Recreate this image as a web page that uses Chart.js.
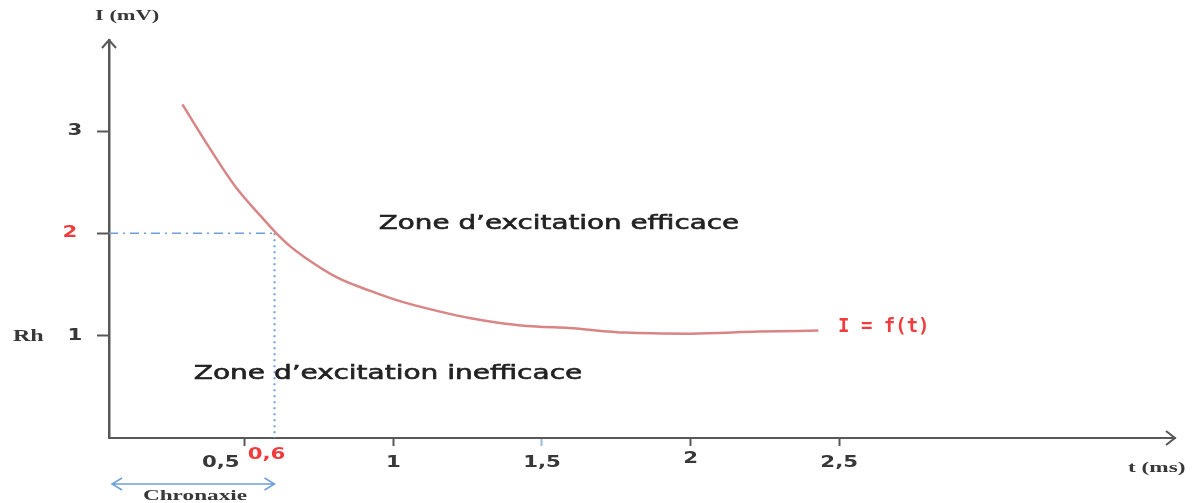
<!DOCTYPE html>
<html>
<head>
<meta charset="utf-8">
<script src="https://cdn.jsdelivr.net/npm/chart.js@4.4.1/dist/chart.umd.min.js"></script>
<style>
  html, body { margin: 0; padding: 0; background: #fff; }
  #wrap { width: 1195px; height: 503px; }
</style>
</head>
<body>
<div id="wrap"><canvas id="chart"></canvas></div>
<script>
// curve I = f(t)
const times = [0.29, 0.38, 0.47, 0.55, 0.6, 0.65, 0.7, 0.81, 0.92, 1.03, 1.15, 1.26, 1.37, 1.48, 1.59, 1.78, 2.0, 2.23, 2.43];
const currents = [3.26, 2.84, 2.45, 2.18, 2.02, 1.88, 1.77, 1.57, 1.44, 1.33, 1.24, 1.17, 1.12, 1.09, 1.075, 1.03, 1.02, 1.04, 1.05];

const xTicks = [0.5, 0.6, 1, 1.5, 2, 2.5];
const xTickLabels = ['0,5', '0,6', '1', '1,5', '2', '2,5'];
const yTicks = [1, 2, 3];
const yTickLabels = ['1', '2', '3'];

const chronaxie = 0.6;
const rheobase = 1;
const xMin = 0.043, xMax = 3.63;
const yMin = 0, yMax = 3.89;

const axisColor = '#585858';
const textColor = '#383838';
const blue = '#6f9fdb';
const red = '#f03c3c';
// the original picture is stretched sideways, so is its text
const stretch = 1.42;

const wideText = (ctx, text, x, y, sx, align, weight) => {
  ctx.save();
  ctx.translate(x, y);
  ctx.scale(sx, 1);
  ctx.textAlign = align;
  ctx.fillText(text, 0, 0);
  if (weight) {
    ctx.strokeStyle = ctx.fillStyle;
    ctx.lineWidth = weight;
    ctx.strokeText(text, 0, 0);
  }
  ctx.restore();
};

// axes arrows, tick labels and notes
const extras = {
  id: 'extras',
  afterDraw(chart) {
    const { ctx, chartArea: a, scales } = chart;
    const x = scales.x, y = scales.y;
    ctx.save();
    ctx.strokeStyle = axisColor;
    ctx.lineWidth = 2;
    // arrowhead on y axis
    ctx.beginPath();
    ctx.moveTo(a.left - 7, a.top + 8);
    ctx.lineTo(a.left, a.top);
    ctx.lineTo(a.left + 7, a.top + 8);
    ctx.stroke();
    // arrowhead on x axis
    ctx.beginPath();
    ctx.moveTo(a.right - 9, a.bottom - 7);
    ctx.lineTo(a.right, a.bottom);
    ctx.lineTo(a.right - 9, a.bottom + 7);
    ctx.stroke();

    ctx.textBaseline = 'middle';

    // tick labels
    ctx.font = 'bold 15px "DejaVu Sans"';
    x.ticks.forEach((t) => {
      const i = xTicks.indexOf(t.value);
      let px = x.getPixelForValue(t.value);
      let py = a.bottom + 25;
      if (t.value === 0.5) px -= 24;
      if (t.value === chronaxie) { px -= 8; py -= 8; }
      if (t.value === 2) py -= 4;
      ctx.fillStyle = t.value === chronaxie ? red : textColor;
      wideText(ctx, xTickLabels[i], px, py, stretch, 'center');
    });
    y.ticks.forEach((t) => {
      const i = yTicks.indexOf(t.value);
      const py = y.getPixelForValue(t.value);
      ctx.fillStyle = t.value === 2 ? red : textColor;
      wideText(ctx, yTickLabels[i], t.value === 2 ? 70 : 75, py, stretch, 'center');
    });

    // axis titles
    ctx.fillStyle = textColor;
    ctx.font = 'bold 15px "Liberation Serif"';
    wideText(ctx, 'I (mV)', 95, 16, 1.5, 'left');
    wideText(ctx, 't (ms)', 1128, 468, 1.55, 'left');
    ctx.font = 'bold 16px "Liberation Serif"';
    wideText(ctx, 'Rh', 13, y.getPixelForValue(rheobase) + 1, 1.5, 'left');

    // zones
    ctx.fillStyle = '#222';
    ctx.font = '20px "DejaVu Sans"';
    wideText(ctx, 'Zone d\u2019excitation efficace', 559, 224, 1.39, 'center', 0.6);
    wideText(ctx, 'Zone d\u2019excitation inefficace', 388, 374, 1.4, 'center', 0.6);

    // curve label
    ctx.fillStyle = red;
    ctx.font = 'bold 19px "DejaVu Sans Mono"';
    ctx.textAlign = 'left';
    ctx.fillText('I = f(t)', 838, 327);

    // chronaxie double arrow
    const x0 = a.left + 3, x1 = x.getPixelForValue(chronaxie);
    const ay = 484;
    ctx.strokeStyle = blue;
    ctx.lineWidth = 1.5;
    ctx.beginPath();
    ctx.moveTo(x0, ay); ctx.lineTo(x1, ay);
    ctx.moveTo(x0 + 10, ay - 6); ctx.lineTo(x0, ay); ctx.lineTo(x0 + 10, ay + 6);
    ctx.moveTo(x1 - 10, ay - 6); ctx.lineTo(x1, ay); ctx.lineTo(x1 - 10, ay + 6);
    ctx.stroke();
    ctx.fillStyle = textColor;
    ctx.font = 'bold 15px "Liberation Serif"';
    wideText(ctx, 'Chronaxie', 195, 496, 1.55, 'center');
    ctx.restore();
  }
};

new Chart(document.getElementById('chart'), {
  type: 'line',
  data: {
    datasets: [
      {
        data: times.map((t, i) => ({ x: t, y: currents[i] })),
        borderColor: '#d98585',
        borderWidth: 2.5,
        pointRadius: 0,
        cubicInterpolationMode: 'monotone',
      },
      {
        data: [{ x: xMin, y: 2 }, { x: chronaxie, y: 2 }],
        borderColor: blue,
        borderWidth: 1.5,
        borderDash: [9, 5, 2, 5],
        pointRadius: 0,
      },
      {
        data: [{ x: chronaxie, y: 2 }, { x: chronaxie, y: yMin }],
        borderColor: blue,
        borderWidth: 2,
        borderDash: [2, 4],
        pointRadius: 0,
      },
    ],
  },
  options: {
    responsive: true,
    maintainAspectRatio: false,
    animation: false,
    layout: { padding: { top: 40, right: 20, left: 0, bottom: 0 } },
    plugins: { legend: { display: false }, tooltip: { enabled: false } },
    scales: {
      x: {
        type: 'linear',
        min: xMin,
        max: xMax,
        afterFit: (s) => { s.height = 65; },
        afterBuildTicks: (s) => { s.ticks = xTicks.map((v) => ({ value: v })); },
        border: { color: axisColor, width: 2 },
        grid: {
          drawOnChartArea: false,
          tickLength: 8,
          tickWidth: 2,
          tickColor: (c) => c.tick && c.tick.value === 1.5 ? '#9ab8e0' : (c.tick && c.tick.value === chronaxie ? 'rgba(0,0,0,0)' : axisColor),
        },
        ticks: { display: false, autoSkip: false },
      },
      y: {
        type: 'linear',
        min: yMin,
        max: yMax,
        afterFit: (s) => { s.width = 109; },
        afterBuildTicks: (s) => { s.ticks = yTicks.map((v) => ({ value: v })); },
        border: { color: axisColor, width: 2.5 },
        grid: { drawOnChartArea: false, tickLength: 12, tickWidth: 2, tickColor: axisColor },
        ticks: { display: false },
      },
    },
  },
  plugins: [extras],
});
</script>
</body>
</html>
